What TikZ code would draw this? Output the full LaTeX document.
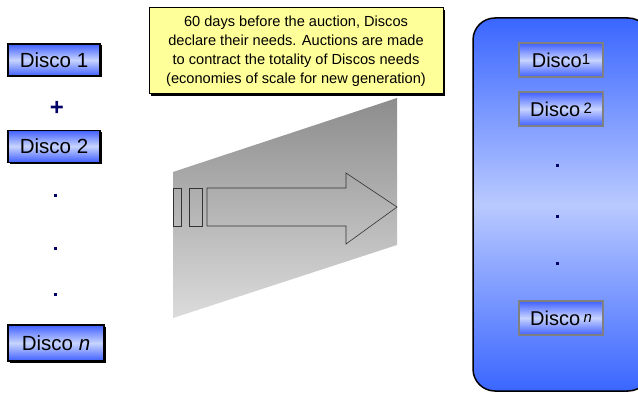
\documentclass[tikz,border=0pt]{standalone}
\usepackage{fontspec}
\setmainfont{Liberation Sans}
\usepackage{tikz}
\usetikzlibrary{positioning,shadows}

\definecolor{discoblue}{HTML}{3F5FFF}
\definecolor{discolight}{HTML}{C8D4FF}
\definecolor{panelblue}{HTML}{3A66FF}
\definecolor{panellight}{HTML}{B9C9FF}
\definecolor{notecolor}{HTML}{FFFF99}
\definecolor{dotcolor}{HTML}{000066}

\tikzset{
    discobox/.style={draw=black, line width=1.2pt, top color=discoblue, bottom color=discoblue, middle color=discolight,
        minimum width=92pt, minimum height=32pt, inner sep=0pt, font=\fontsize{20.5}{22}\selectfont,
        drop shadow={shadow xshift=1.5pt, shadow yshift=-1.5pt, fill=black, opacity=1}},
    innerbox/.style={draw=gray, line width=2pt, top color=discoblue, bottom color=discoblue, middle color=discolight,
        minimum width=84pt, minimum height=34pt, inner sep=0pt, font=\fontsize{20}{22}\selectfont},
    dotmark/.style={fill=dotcolor, minimum size=3pt, inner sep=0pt},
    notebox/.style={draw=black, line width=1pt, fill=notecolor, minimum width=294pt, minimum height=86pt,
        align=center, font=\fontsize{14.6}{19}\selectfont,
        drop shadow={shadow xshift=2pt, shadow yshift=-2pt, fill=black, opacity=1}}
}

\begin{document}
\begin{tikzpicture}[x=1pt, y=-1pt]
    \useasboundingbox (0,0) rectangle (638,393);

    % pannello di destra
    \draw[line width=1.5pt, top color=panelblue, bottom color=panelblue, middle color=panellight, rounded corners=22pt]
        (473,18) rectangle (650,391);

    % sfondo grigio e freccia
    \shade[top color=gray!90, bottom color=gray!28] (173,172) -- (397,98) -- (397,245) -- (173,318) -- cycle;
    \draw[line width=0.6pt, black!80] (207,188) -- (346,188) -- (346,173) -- (397,207) -- (346,244) -- (346,226) -- (207,226) -- cycle;
    \draw[line width=0.6pt, black!80] (173,188) rectangle (181,226);
    \draw[line width=0.6pt, black!80] (189,188) rectangle (202,226);

    % colonna di sinistra
    \node[discobox] (d1) at (54,60) {Disco 1};
    \node[text=dotcolor, font=\fontsize{24}{24}\selectfont\bfseries, inner sep=0pt] (plus) at (57,108) {+};
    \node[discobox, below=53pt of d1] (d2) {Disco 2};
    \node[dotmark] (p1) at (55,196) {};
    \node[dotmark, below=49pt of p1] (p2) {};
    \node[dotmark, below=43pt of p2] (p3) {};
    \node[discobox, minimum width=96pt, minimum height=36pt] (dn) at (56,343) {Disco \textit{n}};

    % riquadro giallo
    \node[notebox] (note) at (296,51) {60 days before the auction, Discos\\
        declare their needs. Auctions are made\\
        to contract the totality of Discos needs\\
        (economies of scale for new generation)};

    % dischi nel pannello
    \node[innerbox] (r1) at (561,60) {Disco\raisebox{3pt}{\fontsize{15}{15}\selectfont 1}};
    \node[innerbox, below=13pt of r1] (r2) {Disco\,\raisebox{3pt}{\fontsize{15}{15}\selectfont 2}};
    \node[dotmark] (q1) at (557,166) {};
    \node[dotmark, below=47pt of q1] (q2) {};
    \node[dotmark, below=44pt of q2] (q3) {};
    \node[innerbox] (rn) at (561,318) {Disco\,\raisebox{3pt}{\fontsize{15}{15}\selectfont\itshape n}};
\end{tikzpicture}
\end{document}
